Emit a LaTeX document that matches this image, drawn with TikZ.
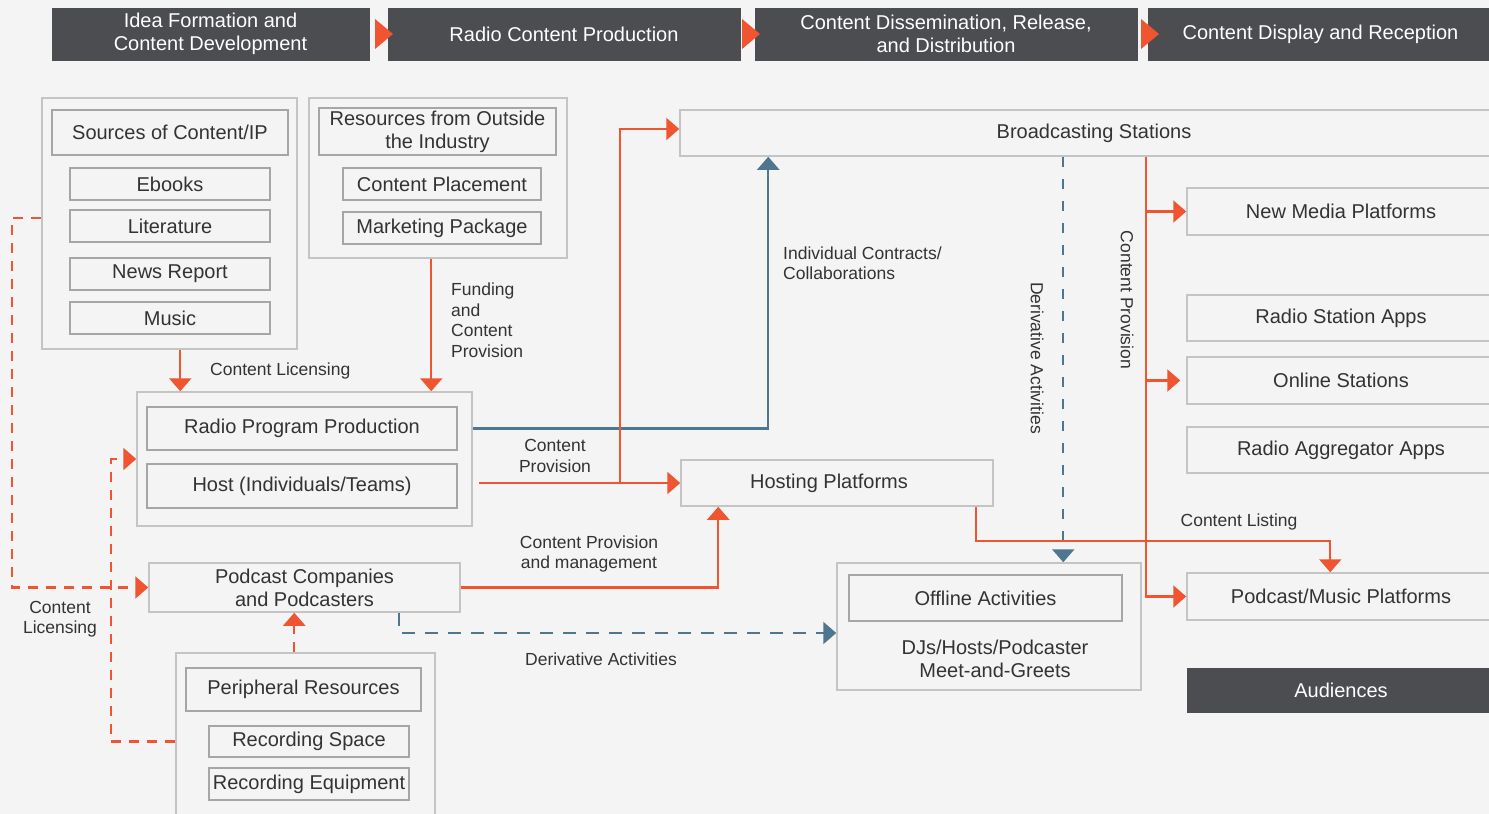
\documentclass[tikz,border=0pt]{standalone}
\usepackage{fontspec}
\setmainfont{Liberation Sans}
\usetikzlibrary{arrows.meta,calc}
\definecolor{bg}{HTML}{F4F4F4}
\definecolor{hdr}{HTML}{4C4D51}
\definecolor{org}{HTML}{EE5530}
\definecolor{blu}{HTML}{4F7690}
\definecolor{brd}{HTML}{C4C4C4}
\definecolor{ibrd}{HTML}{A6A6A6}
\definecolor{txt}{HTML}{333333}
\begin{document}
\begin{tikzpicture}[x=1pt,y=-1pt,
  every node/.style={font=\fontsize{20}{23}\selectfont, text=txt},
  wh/.style 2 args={minimum width=#1, minimum height=#2},
  hdrbox/.style={fill=hdr, draw=hdr, text=white, inner sep=0pt, align=center},
  grp/.style={draw=brd, line width=1.5pt, fill=bg, inner sep=0pt},
  ibox/.style={draw=ibrd, line width=1.5pt, fill=bg, inner sep=0pt, align=center},
  lbl/.style={font=\fontsize{17.5}{20.5}\selectfont, inner sep=0pt},
  oline/.style={draw=org, line width=2.4pt},
  oarr/.style={oline, -{Triangle[length=13pt,width=22pt]}},
  odash/.style={oarr, dash pattern=on 10pt off 8pt},
  barr/.style={draw=blu, line width=2.4pt, -{Triangle[length=13pt,width=22pt]}},
  bdash/.style={barr, dash pattern=on 13pt off 10pt},
  htri/.style={fill=org}
]
\useasboundingbox (0,0) rectangle (1489,814);
\clip (0,0) rectangle (1489,814);
\fill[bg] (0,0) rectangle (1489,814);

% headers
\node[hdrbox, wh={317}{52}] (h1) at (210.5,34) {Idea Formation and\\Content Development};
\node[hdrbox, wh={352}{52}] (h2) at (564,34) {Radio Content Production};
\node[hdrbox, wh={382}{52}] (h3) at (946,34) {Content Dissemination, Release,\\and Distribution};
\node[hdrbox, wh={345}{52}] (h4) at (1320.5,34) {Content Display and Reception};
\fill[htri] (375,19) -- (393,34) -- (375,49) -- cycle;
\fill[htri] (742,19) -- (760,34) -- (742,49) -- cycle;
\fill[htri] (1141,19) -- (1159,34) -- (1141,49) -- cycle;

% group 1: sources
\node[grp, wh={255}{251}] (g1) at (169.5,223.5) {};
\node[ibox, wh={236}{45}] (src) at (170,132.5) {Sources of Content/IP};
\node[ibox, wh={200}{32}] (ebk) at (170,184) {Ebooks};
\node[ibox, wh={200}{32}] (lit) at (170,226) {Literature};
\node[ibox, wh={200}{32}] (nws) at (170,274) {News Report};
\node[ibox, wh={200}{32}] (mus) at (170,318) {Music};

% group 2: outside resources
\node[grp, wh={258}{160}] (g2) at (438,178) {};
\node[ibox, wh={237}{47}] (res) at (437.5,131.5) {Resources from Outside\\the Industry};
\node[ibox, wh={198}{32}] (cpl) at (442,184) {Content Placement};
\node[ibox, wh={198}{32}] (mkp) at (442,228) {Marketing Package};

% production group
\node[grp, wh={335}{134}] (prod) at (304.5,459) {};
\node[ibox, wh={310}{43}] (rpp) at (302,428.5) {Radio Program Production};
\node[ibox, wh={310}{44}] (host) at (302,486) {Host (Individuals/Teams)};

% podcast companies
\node[ibox, draw=brd, wh={311}{49}] (pc) at (304.5,587.5) {Podcast Companies\\and Podcasters};

% peripheral group
\node[grp, wh={259}{177}] (per) at (305.5,741.5) {};
\node[ibox, wh={235}{43}] (prr) at (303.5,689.5) {Peripheral Resources};
\node[ibox, wh={200}{31}] (rsp) at (309,741.5) {Recording Space};
\node[ibox, wh={200}{32}] (req) at (309,784) {Recording Equipment};

% broadcasting & hosting
\node[ibox, draw=brd, wh={828}{46}] (bs) at (1094,133) {Broadcasting Stations};
\node[ibox, draw=brd, wh={312}{46}] (hp) at (837,483) {\hspace*{-16pt}Hosting Platforms};

% offline group
\node[grp, wh={304}{127}] (off) at (989,626.5) {};
\node[ibox, wh={273}{46}] (ofa) at (985.5,598) {Offline Activities};
\node[inner sep=0pt, align=center] (djs) at (995,658.5) {DJs/Hosts/Podcaster\\Meet-and-Greets};

% right column
\node[ibox, draw=brd, wh={308}{47}] (nmp) at (1341,211.5) {New Media Platforms};
\node[ibox, draw=brd, wh={308}{46}] (rsa) at (1341,318) {Radio Station Apps};
\node[ibox, draw=brd, wh={308}{47}] (ost) at (1341,380.5) {Online Stations};
\node[ibox, draw=brd, wh={308}{46}] (raa) at (1341,450) {Radio Aggregator Apps};
\node[ibox, draw=brd, wh={308}{47}] (pmp) at (1341,596.5) {Podcast/Music Platforms};
\node[hdrbox, wh={308}{44}] (aud) at (1341,690) {Audiences};

% connectors
\draw[oarr] ($(g1.south west)+(139,0)$) -- ($(prod.north west)+(44,0)$);
\node[lbl, anchor=west] (lcl) at (210,371) {Content Licensing};
\draw[oarr] ($(g2.south west)+(123,0)$) -- ($(prod.north west)+(295,0)$);
\node[lbl, anchor=west, align=left] (lfund) at (451,320) {Funding\\and\\Content\\Provision};

\draw[barr] (prod.east |- rpp.center) -| ($(bs.south west)+(89,0)$);
\node[lbl, anchor=west, align=left] (lic) at (783,263) {Individual Contracts/\\Collaborations};

\coordinate (hs) at ($(prod.east |- host.center)+(6,-3)$);
\draw[oarr] (hs) -- (hp.west |- hs);
\coordinate (br1) at ($(hs)+(141,0)$);
\draw[oarr] (br1) |- ($(bs.west)+(0,-4)$);
\node[lbl, align=center] (lcp) at (555,456) {Content\\Provision};

\draw[oarr] (pc.east) -| ($(hp.south west)+(38,0)$);
\node[lbl, align=center] (lcpm) at (589,554) {Content Provision\\and management};

\draw[bdash] ($(pc.south west)+(251,0)$) |- ($(off.west)+(0,6.5)$);
\node[lbl] (lda) at (601,659) {Derivative Activities};

\draw[bdash, dash pattern=on 10pt off 12pt] ($(bs.south west)+(384,0)$) -- ($(off.north west)+(227,0)$);
\node[lbl, rotate=-90] (lda2) at (1037,358) {Derivative Activities};

\coordinate (cpv) at ($(bs.south west)+(467,0)$);
\draw[oarr] (cpv) |- (pmp.west);
\draw[oarr] (cpv |- nmp.west) -- (nmp.west);
\draw[oarr] (cpv |- ost.west) -- ($(ost.west)+(-6,0)$);
\node[lbl, rotate=-90] (lcp2) at (1127,300) {Content Provision};

\draw[oarr] ($(hp.south west)+(296,0)$) |- ($(pmp.north west)+(144,-31)$) -- ($(pmp.north west)+(144,0)$);
\node[lbl] (lcl2) at (1239,522) {Content Listing};

\draw[odash] ($(g1.west)+(0,-5.5)$) -- ++(-29,0) |- (pc.west);
\node[lbl, align=center] (lcl3) at (60,619) {Content\\Licensing};
\draw[odash] (per.west) -- ++(-64,0) |- (prod.west);
\draw[odash] ($(per.north west)+(119,0)$) -- ($(pc.south west)+(146,0)$);
\end{tikzpicture}
\end{document}
